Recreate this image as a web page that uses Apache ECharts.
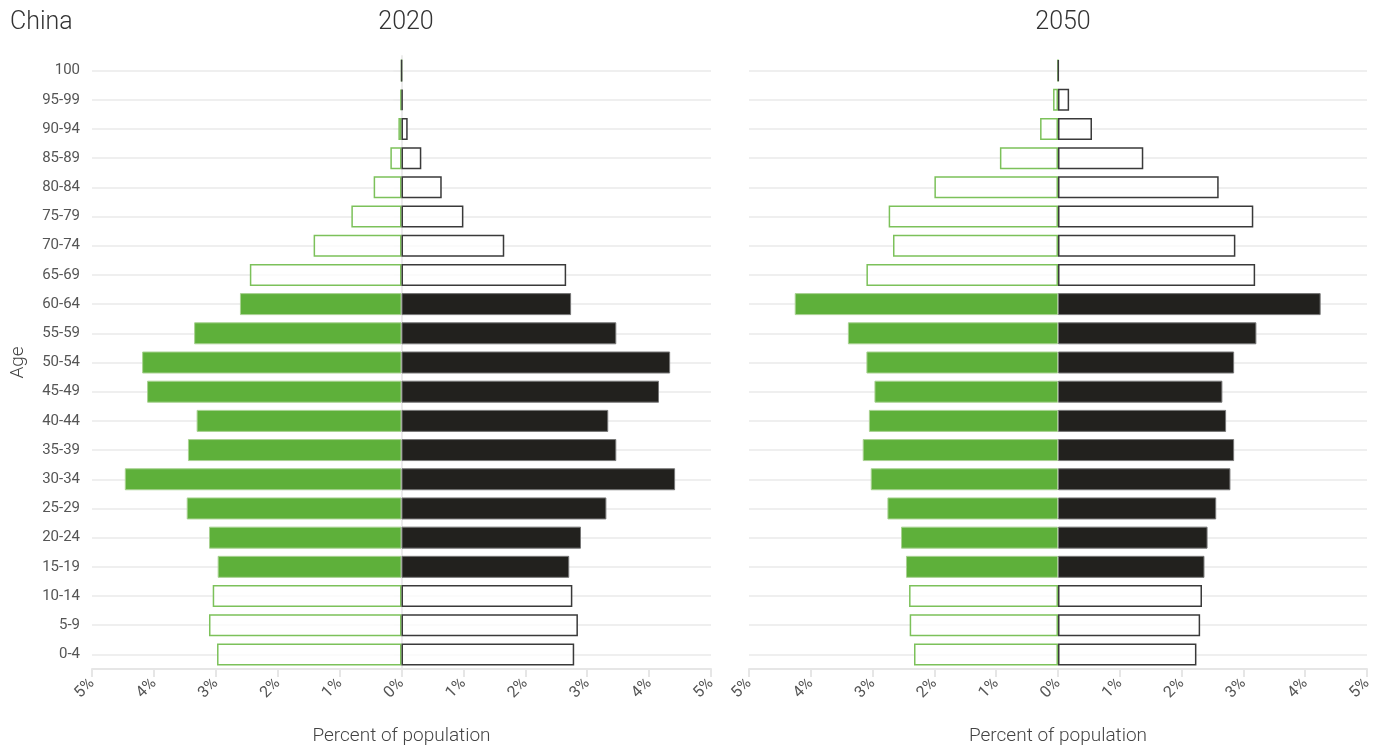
<!DOCTYPE html>
<html>
<head>
<meta charset="utf-8">
<title>China population pyramid</title>
<script src="https://cdn.jsdelivr.net/npm/echarts@6/dist/echarts.min.js"></script>
<style>
  html, body { margin: 0; padding: 0; background: #fff; }
  #chart { width: 1385px; height: 751px; }
</style>
</head>
<body>
<div id="chart"></div>
<script>
// age groups, bottom to top
var ages = ['0-4', '5-9', '10-14', '15-19', '20-24', '25-29', '30-34', '35-39', '40-44', '45-49',
  '50-54', '55-59', '60-64', '65-69', '70-74', '75-79', '80-84', '85-89', '90-94', '95-99', '100'];

// percent of population
var female2020 = [2.98, 3.11, 3.05, 2.97, 3.11, 3.47, 4.47, 3.45, 3.31, 4.11, 4.19, 3.35, 2.61, 2.45, 1.42, 0.81, 0.45, 0.18, 0.05, 0.02, 0.0];
var male2020 = [2.79, 2.85, 2.76, 2.71, 2.90, 3.31, 4.42, 3.47, 3.34, 4.16, 4.34, 3.47, 2.74, 2.66, 1.66, 1.00, 0.65, 0.32, 0.10, 0.02, 0.003];
var female2050 = [2.33, 2.40, 2.41, 2.46, 2.54, 2.76, 3.03, 3.16, 3.06, 2.97, 3.10, 3.40, 4.26, 3.10, 2.67, 2.74, 2.00, 0.94, 0.29, 0.08, 0.0];
var male2050 = [2.24, 2.30, 2.33, 2.37, 2.42, 2.56, 2.79, 2.85, 2.72, 2.66, 2.85, 3.21, 4.25, 3.19, 2.87, 3.16, 2.60, 1.38, 0.55, 0.18, 0.01];

// working age groups (15-64) are drawn filled
var workingAge = ['15-19', '20-24', '25-29', '30-34', '35-39', '40-44', '45-49', '50-54', '55-59', '60-64'];

var GREEN = '#5eb03a';
var BLACK = '#22211e';
var FONT = 'Roboto';

function bars(values, sign, color, lineColor) {
  return values.map(function (v, i) {
    var filled = workingAge.indexOf(ages[i]) >= 0;
    return {
      value: sign * v,
      itemStyle: filled ? {
        color: color, borderColor: sign < 0 ? '#a9d292' : '#777', borderWidth: 1
      } : {
        color: 'rgba(255,255,255,0.75)', borderColor: lineColor, borderWidth: 1.5
      }
    };
  });
}

function xAxis(idx) {
  return {
    gridIndex: idx, type: 'value', min: -5, max: 5, interval: 1,
    position: 'bottom',
    name: 'Percent of population', nameLocation: 'middle', nameGap: 58,
    nameTextStyle: { fontFamily: FONT, fontSize: 19, color: '#444', fontWeight: 300 },
    axisLine: { show: true, onZero: false, lineStyle: { color: '#e6e6e6', width: 2 } },
    axisTick: { show: true, length: 8, lineStyle: { color: '#e6e6e6', width: 2 } },
    splitLine: { show: false },
    axisLabel: {
      rotate: 45, fontFamily: FONT, fontSize: 16, color: '#555', margin: 12,
      formatter: function (v) { return Math.abs(v) + '%'; }
    }
  };
}

function yAxis(idx, showLabels) {
  return {
    gridIndex: idx, type: 'category', data: ages,
    name: showLabels ? 'Age' : '', nameLocation: 'middle', nameGap: 64, nameRotate: 90,
    nameTextStyle: { fontFamily: FONT, fontSize: 19, color: '#444', fontWeight: 300 },
    axisLine: { show: showLabels, lineStyle: { color: '#ececec', width: 2 } },
    axisTick: { show: showLabels, alignWithLabel: true, length: 8, lineStyle: { color: '#ececec', width: 2 } },
    splitLine: { show: true, alignWithLabel: true, lineStyle: { color: '#efefef', width: 2 } },
    axisLabel: { show: showLabels, fontFamily: FONT, fontSize: 15, color: '#555', margin: 12 }
  };
}

var chart = echarts.init(document.getElementById('chart'));

var option = {
  animation: false,
  title: [
    { text: 'China', left: 5, top: 5, textStyle: { fontFamily: FONT, fontSize: 25, fontWeight: 300, color: '#333' } },
    { text: '2020', left: 401, top: 5, textAlign: 'center', textStyle: { fontFamily: FONT, fontSize: 25, fontWeight: 300, color: '#333' } },
    { text: '2050', left: 1058, top: 5, textAlign: 'center', textStyle: { fontFamily: FONT, fontSize: 25, fontWeight: 300, color: '#333' } }
  ],
  grid: [
    { left: 92, right: 674, top: 56, bottom: 75 },
    { left: 749, right: 18, top: 56, bottom: 75 }
  ],
  xAxis: [xAxis(0), xAxis(1)],
  yAxis: [yAxis(0, true), yAxis(1, false)],
  series: [
    { name: 'Female 2020', type: 'bar', xAxisIndex: 0, yAxisIndex: 0, stack: 'y2020', barWidth: 22, data: bars(female2020, -1, GREEN, '#7cc15a') },
    { name: 'Male 2020', type: 'bar', xAxisIndex: 0, yAxisIndex: 0, stack: 'y2020', barWidth: 22, data: bars(male2020, 1, BLACK, '#3a3a3a') },
    { name: 'Female 2050', type: 'bar', xAxisIndex: 1, yAxisIndex: 1, stack: 'y2050', barWidth: 22, data: bars(female2050, -1, GREEN, '#7cc15a') },
    { name: 'Male 2050', type: 'bar', xAxisIndex: 1, yAxisIndex: 1, stack: 'y2050', barWidth: 22, data: bars(male2050, 1, BLACK, '#3a3a3a') }
  ]
};

chart.setOption(option);
</script>
</body>
</html>
